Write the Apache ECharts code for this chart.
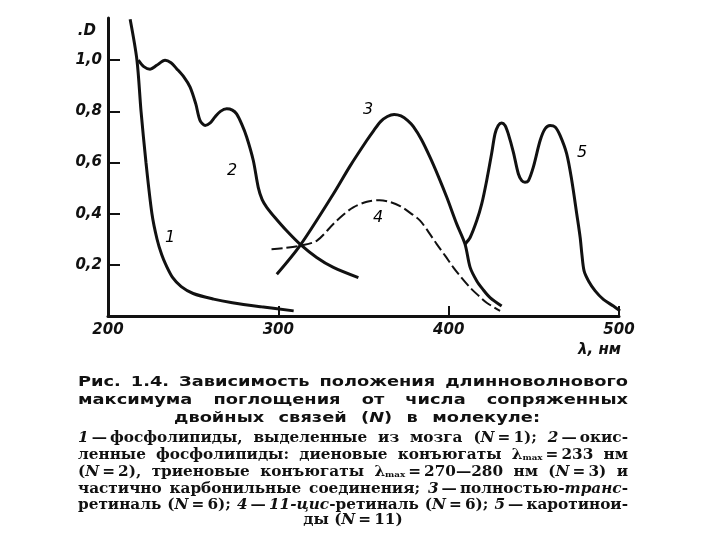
<!DOCTYPE html>
<html><head><meta charset="utf-8">
<script src="https://cdn.jsdelivr.net/npm/echarts@6/dist/echarts.min.js"></script>
<style>html,body{margin:0;padding:0;background:#fff}#c{width:720px;height:540px}</style>
</head><body><div id="c"></div>
<script>
// ---- data (wavelength nm, absorbance D) ----
const curve1 = [[213,1.16],[217,1.0],[219.4,0.8],[222.3,0.6],[225.8,0.4],[228.8,0.3],[231.5,0.24],[234,0.2],[238,0.15],[243,0.115],[250,0.088],[262,0.066],[273,0.052],[290,0.036],[309,0.02]];
const curve2 = [[217.8,1.0],[221,0.975],[224.7,0.965],[228.6,0.98],[233.5,1.0],[237,0.99],[240.3,0.967],[244.5,0.935],[248.2,0.895],[251.5,0.83],[254,0.765],[257,0.745],[260,0.755],[262.8,0.778],[266,0.8],[269.7,0.81],[273,0.805],[275.5,0.79],[278.5,0.75],[281.4,0.70],[285.3,0.608],[288.2,0.503],[290.5,0.455],[293.2,0.425],[298,0.385],[304.9,0.333],[312.7,0.281],[322.5,0.229],[332.3,0.19],[347,0.15]];
const curve3 = [[299.1,0.163],[312.7,0.275],[332.3,0.477],[342,0.585],[351.9,0.686],[356,0.725],[360,0.76],[364,0.78],[368,0.788],[372,0.782],[376,0.764],[379.3,0.74],[384,0.69],[389.1,0.62],[394,0.545],[398.9,0.464],[404.7,0.36],[409.6,0.281],[412.6,0.19],[416.5,0.137],[420,0.105],[424.3,0.072],[431.1,0.039]];
const curve4 = [[296,0.261],[304,0.266],[312.7,0.275],[322.5,0.294],[332.3,0.36],[338,0.395],[344,0.425],[352,0.447],[359.5,0.453],[366,0.445],[371.5,0.43],[377,0.405],[383.2,0.373],[388,0.33],[393,0.281],[398,0.235],[402.7,0.19],[407.5,0.15],[412.6,0.111],[417.5,0.08],[422.3,0.052],[430.2,0.02]];
const curve5 = [[409.6,0.281],[412.6,0.307],[416.5,0.373],[419.4,0.438],[422.3,0.529],[425.2,0.634],[427.2,0.712],[429.1,0.745],[431.1,0.755],[433.1,0.745],[435,0.712],[438,0.64],[440.9,0.556],[442.9,0.529],[444.8,0.523],[446.8,0.529],[449.7,0.582],[453.7,0.686],[456.6,0.732],[459.5,0.745],[462.5,0.739],[465.4,0.706],[469.3,0.634],[472.3,0.529],[475.2,0.399],[477.2,0.307],[478.2,0.242],[479.5,0.176],[482.1,0.137],[486,0.098],[490.8,0.065],[496.7,0.039],[500.6,0.02]];
const curveLabels = [[236.4,0.306,'1'],[272.8,0.569,'2'],[352.7,0.804,'3'],[358.5,0.384,'4'],[478.3,0.639,'5']];
const xTicks = [200,300,400,500];
const yTicks = [0.2,0.4,0.6,0.8,1.0];
const yName = '.D';
const xName = 'λ, нм';
const captionHead = ['Рис. 1.4. Зависимость положения длинноволнового','максимума поглощения от числа сопряженных','двойных связей ({i|N}) в молекуле:'];
const captionBody = [
 '{i|1}\u2009—\u2009фосфолипиды, выделенные из мозга ({i|N}\u2009=\u20091); {i|2}\u2009—\u2009окис-',
 'ленные фосфолипиды: диеновые конъюгаты λ{s|max}\u2009=\u2009233 нм',
 '({i|N}\u2009=\u20092), триеновые конъюгаты λ{s|max}\u2009=\u2009270—280 нм ({i|N}\u2009=\u20093) и',
 'частично карбонильные соединения; {i|3}\u2009—\u2009полностью-{i|транс}-',
 'ретиналь ({i|N}\u2009=\u20096); {i|4}\u2009—\u2009{i|11-цис}-ретиналь ({i|N}\u2009=\u20096); {i|5}\u2009—\u2009каротинои-',
 'ды ({i|N}\u2009=\u200911)'
];

const INK = '#111';
const chart = echarts.init(document.getElementById('c'));
const axisFont = {fontFamily:'DejaVu Sans', fontStyle:'italic', fontWeight:'bold', fontSize:15, color:INK};

function lineSeries(data, dashed){
  return {type:'line', data, showSymbol:false, smooth:0.3, clip:false,
    lineStyle:{color:INK, width:dashed?2:3, type: dashed?[11,4]:'solid'}};
}

// caption layout (justified text, horizontally stretched font)
const cv = document.createElement('canvas').getContext('2d');
function fontStr(fam, size, italic){ return (italic?'italic ':'')+'bold '+size+'px '+fam; }
function measure(token, fam, size){
  let w=0; const re=/\{(\w+)\|([^}]*)\}/g; let last=0, m;
  while((m=re.exec(token))){
    if(m.index>last){ cv.font=fontStr(fam,size,false); w+=cv.measureText(token.slice(last,m.index)).width; }
    if(m[1]==='i'){ cv.font=fontStr(fam,size,true); } else { cv.font=fontStr(fam,8,false); }
    w+=cv.measureText(m[2]).width; last=re.lastIndex;
  }
  if(last<token.length){ cv.font=fontStr(fam,size,false); w+=cv.measureText(token.slice(last)).width; }
  return w;
}
function fitScale(text, fam, size, width, space){
  const words=text.split(' ');
  const tot=words.reduce((a,w)=>a+measure(w,fam,size),0);
  return (width-space*(words.length-1))/tot;
}
const graphics = [];
function addLine(text, fam, size, sx, y, x0, x1, mode){
  const rich = {i:{fontFamily:fam,fontSize:size,fontWeight:'bold',fontStyle:'italic',fill:INK},
                s:{fontFamily:fam,fontSize:8,fontWeight:'bold',fill:INK,padding:[6,0,0,0]}};
  const base = {fontFamily:fam,fontSize:size,fontWeight:'bold',fill:INK,rich,verticalAlign:'middle'};
  if(mode==='center'){
    graphics.push({type:'text',x:(x0+x1)/2,y,scaleX:sx,style:Object.assign({text,align:'center'},base)});
    return;
  }
  const words = text.split(' ');
  const ws = words.map(w=>measure(w,fam,size)*sx);
  const tot = ws.reduce((a,b)=>a+b,0);
  const gap = (x1-x0-tot)/(words.length-1);
  let x=x0;
  words.forEach((w,i)=>{
    graphics.push({type:'text',x,y,scaleX:sx,style:Object.assign({text:w,align:'left'},base)});
    x+=ws[i]+gap;
  });
}
const L=78, R=628;
const HF='DejaVu Sans', BF='DejaVu Serif';
const hs = fitScale(captionHead[0],HF,14,R-L,10);
const bs = Math.min.apply(null, captionBody.slice(0,5).map(t=>fitScale(t,BF,14,R-L,6)));
addLine(captionHead[0],HF,14,hs,382,L,R,'justify');
addLine(captionHead[1],HF,14,hs,400,L,R,'justify');
addLine(captionHead[2],HF,14,hs,418,174,540,'justify');
const bodyY=[438,455,472,489,505,520];
captionBody.forEach((t,i)=>addLine(t,BF,14,bs,bodyY[i],L,R,i===5?'center':'justify'));
graphics.push({type:'text',x:96,y:31,style:{text:yName,align:'right',verticalAlign:'middle',fontFamily:'DejaVu Sans',fontStyle:'italic',fontWeight:'bold',fontSize:15,fill:INK}});
graphics.push({type:'text',x:621,y:350,style:{text:xName,align:'right',verticalAlign:'middle',fontFamily:'DejaVu Sans',fontStyle:'italic',fontWeight:'bold',fontSize:15,fill:INK}});

chart.setOption({
  backgroundColor:'#fff',
  animation:false,
  grid:{left:108,right:101,top:18,bottom:224,containLabel:false},
  xAxis:{type:'value',min:200,max:500,interval:100,
    axisLine:{lineStyle:{color:INK,width:3}},
    axisTick:{inside:true,length:10,customValues:[300,400,500],lineStyle:{color:INK,width:2}},
    axisLabel:Object.assign({customValues:xTicks,margin:7},axisFont),
    splitLine:{show:false}},
  yAxis:{type:'value',min:0,max:1.165,interval:0.2,
    axisLine:{show:true,lineStyle:{color:INK,width:3}},
    axisTick:{show:true,inside:true,length:12,customValues:yTicks,lineStyle:{color:INK,width:2}},
    axisLabel:Object.assign({customValues:yTicks,margin:6,formatter:v=>v.toFixed(1).replace('.',',')},axisFont),
    splitLine:{show:false}},
  series:[
    lineSeries(curve1,false), lineSeries(curve2,false), lineSeries(curve3,false),
    lineSeries(curve4,true), lineSeries(curve5,false),
    {type:'scatter',data:curveLabels,symbolSize:0,itemStyle:{opacity:1},
     label:{show:true,position:'inside',opacity:1,formatter:p=>p.data[2],fontFamily:'DejaVu Sans',fontStyle:'italic',fontWeight:'normal',fontSize:16,color:'#000'}}
  ],
  graphic:graphics
});
</script></body></html>
